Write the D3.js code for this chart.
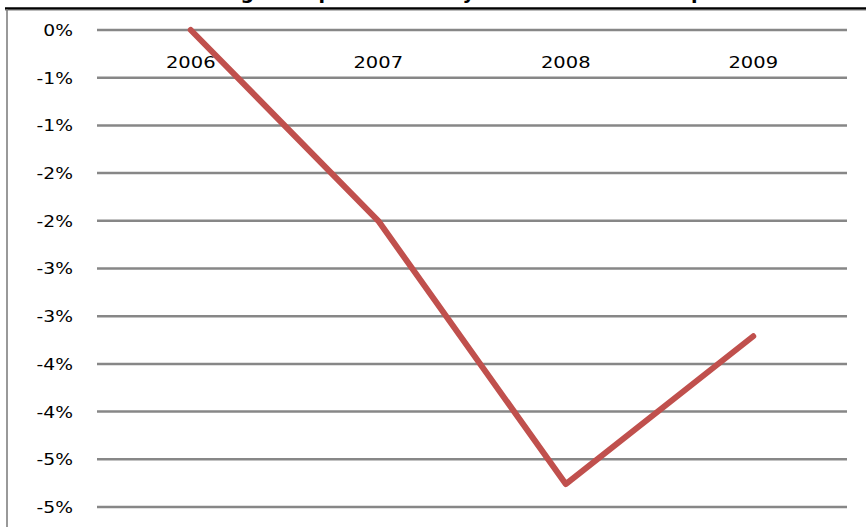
<!DOCTYPE html>
<html>
<head>
<meta charset="utf-8">
<script src="https://cdn.jsdelivr.net/npm/d3@7"></script>
<style>
  body { margin: 0; background: #fff; }
  svg { display: block; }
</style>
</head>
<body>
<div id="chart"></div>
<script>
var years = ["2006", "2007", "2008", "2009"];
var values = [0, -0.0200, -0.0476, -0.0321];
var tickValues = [0, -0.005, -0.01, -0.015, -0.02, -0.025, -0.03, -0.035, -0.04, -0.045, -0.05];
var tickLabels = ["0%", "-1%", "-1%", "-2%", "-2%", "-3%", "-3%", "-4%", "-4%", "-5%", "-5%"];
var title = "Variación de los ingresos por servicios y costo de ventas respecto al 2006";

var svg = d3.select("#chart")
  .append("svg")
  .attr("width", 866)
  .attr("height", 527);

var plotLeft = 97, plotRight = 847, plotTop = 30, plotBottom = 507;

var x = d3.scaleBand().domain(years).range([plotLeft, plotRight]);
var y = d3.scaleLinear().domain([-0.05, 0]).range([plotBottom, plotTop]);

// clipped title, only the bottom of it shows
svg.append("text")
  .attr("x", 440)
  .attr("y", -1)
  .attr("text-anchor", "middle")
  .attr("font-family", "DejaVu Sans")
  .attr("font-weight", "700")
  .attr("font-size", "19px")
  .attr("fill", "#000")
  .text(title);

// frame
svg.append("line")
  .attr("x1", 5).attr("x2", 866).attr("y1", 8.5).attr("y2", 8.5)
  .attr("stroke", "#000").attr("stroke-width", 2.5);
svg.append("line")
  .attr("x1", 5).attr("x2", 866).attr("y1", 10.3).attr("y2", 10.3)
  .attr("stroke", "#aaa").attr("stroke-width", 1);
svg.append("line")
  .attr("x1", 7).attr("x2", 7).attr("y1", 9).attr("y2", 527)
  .attr("stroke", "#777").attr("stroke-width", 1.5);

// gridlines
svg.append("g")
  .selectAll("line")
  .data(tickValues)
  .join("line")
  .attr("x1", plotLeft).attr("x2", plotRight)
  .attr("y1", d => y(d)).attr("y2", d => y(d))
  .attr("stroke", "#878787")
  .attr("stroke-width", 2.5);

// y axis labels
var yAxis = svg.append("g")
  .attr("transform", "translate(" + plotLeft + ",0)")
  .call(d3.axisLeft(y)
    .tickValues(tickValues)
    .tickSize(0)
    .tickFormat((d, i) => tickLabels[i]));
yAxis.select(".domain").remove();
yAxis.selectAll("text")
  .attr("x", 0)
  .attr("dy", "0.36em")
  .attr("font-family", "DejaVu Sans")
  .attr("font-size", "15px")
  .attr("fill", "#000")
  .attr("transform", "translate(-24,0) scale(1.25,1)");

// category labels
var xAxis = svg.append("g")
  .attr("transform", "translate(0," + y(0) + ")")
  .call(d3.axisBottom(x).tickSize(0));
xAxis.select(".domain").remove();
xAxis.selectAll(".tick text")
  .attr("y", 0)
  .attr("dy", 0)
  .attr("font-family", "DejaVu Sans")
  .attr("font-size", "15px")
  .attr("fill", "#000")
  .attr("transform", "translate(0,38) scale(1.3,1)");

// line
var line = d3.line()
  .x((d, i) => x(years[i]) + x.bandwidth() / 2)
  .y(d => y(d));

svg.append("path")
  .datum(values)
  .attr("d", line)
  .attr("fill", "none")
  .attr("stroke", "#C0504D")
  .attr("stroke-width", 6)
  .attr("stroke-linecap", "round")
  .attr("stroke-linejoin", "round");
</script>
</body>
</html>
